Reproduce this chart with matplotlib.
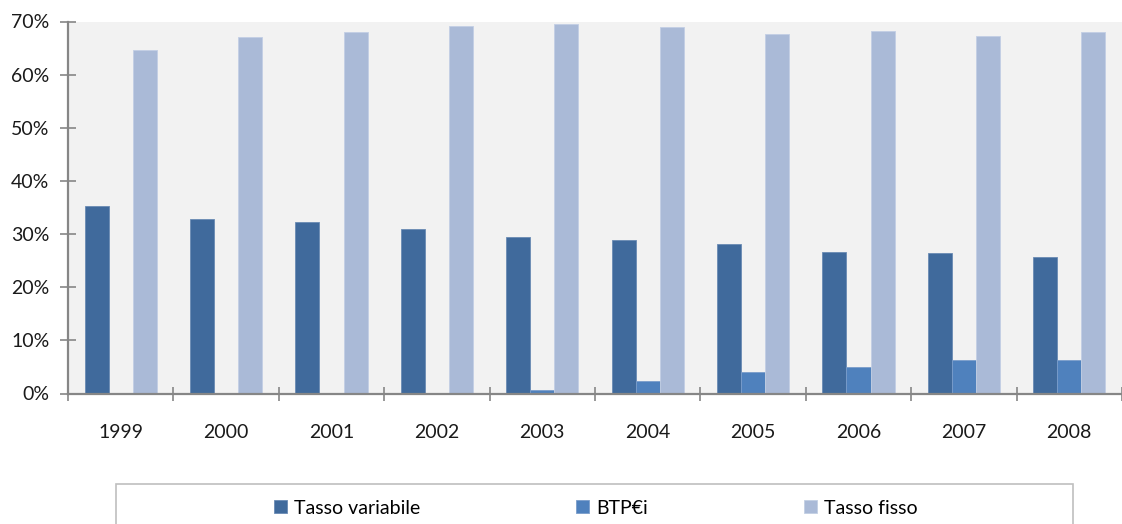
import matplotlib
matplotlib.use("Agg")
import matplotlib.pyplot as plt
import numpy as np
from matplotlib.patches import Rectangle
from matplotlib.ticker import FixedLocator, PercentFormatter

years = ["1999", "2000", "2001", "2002", "2003", "2004", "2005", "2006", "2007", "2008"]
tasso_variabile = [35.3, 32.8, 32.2, 31.0, 29.5, 28.9, 28.2, 26.6, 26.4, 25.7]
btpei = [0.0, 0.0, 0.0, 0.0, 0.7, 2.3, 4.1, 5.0, 6.3, 6.3]
tasso_fisso = [64.6, 67.1, 68.0, 69.2, 69.5, 68.9, 67.7, 68.3, 67.3, 68.0]
series_names = ["Tasso variabile", "BTP€i", "Tasso fisso"]
colors = ["#406A9C", "#4F81BD", "#AABAD7"]
edges = ["#6A8BB4", "#7A9DCB", "#C3CFE4"]

plt.rcParams['font.family'] = ['Lato', 'DejaVu Sans']

fig = plt.figure(figsize=(11.22, 5.24), dpi=100)
ax = fig.add_axes([68/1122, 1-393.5/524, 1-68/1122, (393.5-21.5)/524])
ax.set_facecolor("#F2F2F2")

x = np.arange(len(years))
w = 0.228
handles = []
for i, (vals, name) in enumerate(zip([tasso_variabile, btpei, tasso_fisso], series_names)):
    b = ax.bar(x + (i - 1) * w, vals, width=w, color=colors[i], edgecolor=edges[i],
               linewidth=0.6, label=name, zorder=2)
    handles.append(b)

ax.set_xlim(-0.5, len(years) - 0.5)
ax.set_ylim(0, 70)
ax.set_yticks(np.arange(0, 71, 10))
ax.yaxis.set_major_formatter(PercentFormatter(decimals=0))
ax.set_xticks(x)
ax.set_xticklabels(years)
ax.xaxis.set_minor_locator(FixedLocator(np.arange(-0.5, len(years), 1.0)))

for s in ["top", "right"]:
    ax.spines[s].set_visible(False)
for s in ["left", "bottom"]:
    ax.spines[s].set_color("#868686")
    ax.spines[s].set_linewidth(1.6)

ax.tick_params(axis='y', direction='inout', length=11, width=1.2, color="#868686",
               labelsize=14, pad=8, labelcolor="#1a1a1a")
ax.tick_params(axis='x', which='major', length=0, labelsize=14, pad=22, labelcolor="#1a1a1a")
ax.tick_params(axis='x', which='minor', direction='inout', length=10, width=1.2, color="#868686")

# legend box
box = Rectangle((116/1122, -0.05), (1073-116)/1122, (0.05 + 1-484/524), transform=fig.transFigure,
                facecolor="white", edgecolor="#BFBFBF", linewidth=1.2, clip_on=False)
fig.patches.append(box)

leg = fig.legend(handles=handles, labels=series_names, loc='center',
                 bbox_to_anchor=(596/1122, 1-508/524), ncol=3, frameon=False,
                 fontsize=14, handlelength=0.65, handleheight=0.65, handletextpad=0.4,
                 columnspacing=8.0)

fig.savefig("out.png", dpi=100)
